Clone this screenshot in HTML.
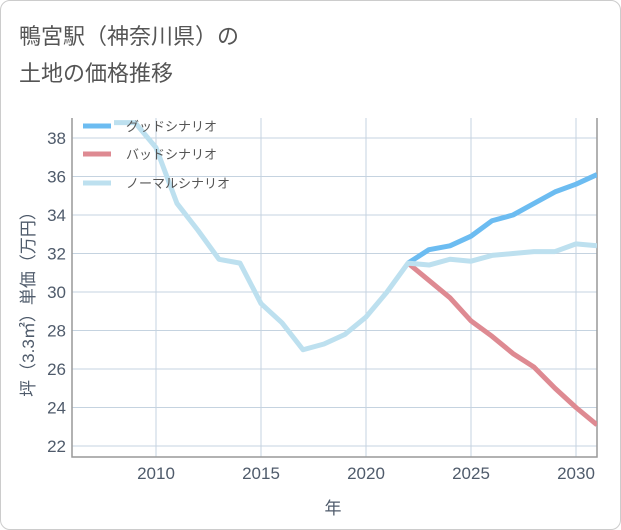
<!DOCTYPE html>
<html><head><meta charset="utf-8"><style>
body{margin:0;background:#fff;}
#card{position:absolute;left:0;top:0;width:619px;height:528px;border:1px solid #ccc;border-radius:10px;background:#fff;}
.title{position:absolute;left:18px;font:22px "Liberation Sans","Noto Sans CJK JP",sans-serif;color:#555;}
svg text{font-family:"Liberation Sans","Noto Sans CJK JP",sans-serif;}
</style></head><body>
<div id="card">
<div class="title" style="top:18px">鴨宮駅（神奈川県）の</div>
<div class="title" style="top:55px">土地の価格推移</div>
</div>
<svg id="chart" width="621" height="530" style="position:absolute;left:0;top:0"></svg>
<script>
const normalYears=[2008,2009,2010,2011,2012,2013,2014,2015,2016,2017,2018,2019,2020,2021,2022,2023,2024,2025,2026,2027,2028,2029,2030,2031];
const normalVals=[38.8,38.8,37.5,34.6,33.2,31.7,31.5,29.4,28.4,27.0,27.3,27.8,28.7,30.0,31.5,31.4,31.7,31.6,31.9,32.0,32.1,32.1,32.5,32.4];
const scenYears=[2022,2023,2024,2025,2026,2027,2028,2029,2030,2031];
const goodVals=[31.5,32.2,32.4,32.9,33.7,34.0,34.6,35.2,35.6,36.1];
const badVals=[31.5,30.6,29.7,28.5,27.7,26.8,26.1,25.0,24.0,23.1];
const xTicks=[2010,2015,2020,2025,2030];
const yTicks=[22,24,26,28,30,32,34,36,38];
const NS='http://www.w3.org/2000/svg';
const svg=document.getElementById('chart');
const L=72,R=597,T=118,B=457;
const x=v=>L+(v-2006)/(2031-2006)*(R-L);
const y=v=>446+(v-22)*(138-446)/16;
function el(t,a){const e=document.createElementNS(NS,t);for(const k in a)e.setAttribute(k,a[k]);svg.appendChild(e);return e;}
const clip=el('clipPath',{id:'plotclip'});
const cr=document.createElementNS(NS,'rect');cr.setAttribute('x',L);cr.setAttribute('y',T);cr.setAttribute('width',R-L);cr.setAttribute('height',B-T);clip.appendChild(cr);
yTicks.forEach(v=>{
 const g=el('line',{x1:L,x2:R,y1:y(v),y2:y(v),stroke:'#c5d3e0','stroke-width':1});
 
 
 const t=el('text',{x:L-6,y:y(v)+6,'text-anchor':'end','font-size':17,fill:'#4f5b6b'});t.textContent=v;
 
 
});
xTicks.forEach(v=>{
 const g=el('line',{x1:x(v),x2:x(v),y1:T,y2:B,stroke:'#c5d3e0','stroke-width':1});
 
 
 const t=el('text',{x:x(v),y:B+22,'text-anchor':'middle','font-size':17,fill:'#4f5b6b'});t.textContent=v;
 
 
});
const ax=el('path',{d:`M${L},${T}V${B}H${R}V${T}`,fill:'none',stroke:'#999','stroke-width':1.5});


function series(xs,vs,color,name){
 const p=el('polyline',{points:xs.map((v,i)=>x(v)+','+y(vs[i])).join(' '),fill:'none',stroke:color,'stroke-width':5,'stroke-linejoin':'round','clip-path':'url(#plotclip)'});
 
 
}
series(scenYears,badVals,'#de8a92','bad-scenario-line');
series(scenYears,goodVals,'#6cbcf1','good-scenario-line');
series(normalYears,normalVals,'#bde0ef','normal-scenario-line');
[['グッドシナリオ','#6cbcf1',126],['バッドシナリオ','#de8a92',154],['ノーマルシナリオ','#bde0ef',183]].forEach(([n,c,yy])=>{
 const l=el('line',{x1:83,x2:111,y1:yy,y2:yy,stroke:c,'stroke-width':5});
 
 
 const t=el('text',{x:126,y:yy+5,'font-size':13,fill:'#555'});t.textContent=n;
 
 
});
const xt=el('text',{x:333,y:514,'text-anchor':'middle','font-size':17,fill:'#4f5b6b'});xt.textContent='年';


const yt=el('text',{x:0,y:0,'text-anchor':'middle','font-size':17,fill:'#4f5b6b',transform:'translate(34,300) rotate(-90)'});yt.textContent='坪（3.3㎡）単価（万円）';


</script>
</body></html>
